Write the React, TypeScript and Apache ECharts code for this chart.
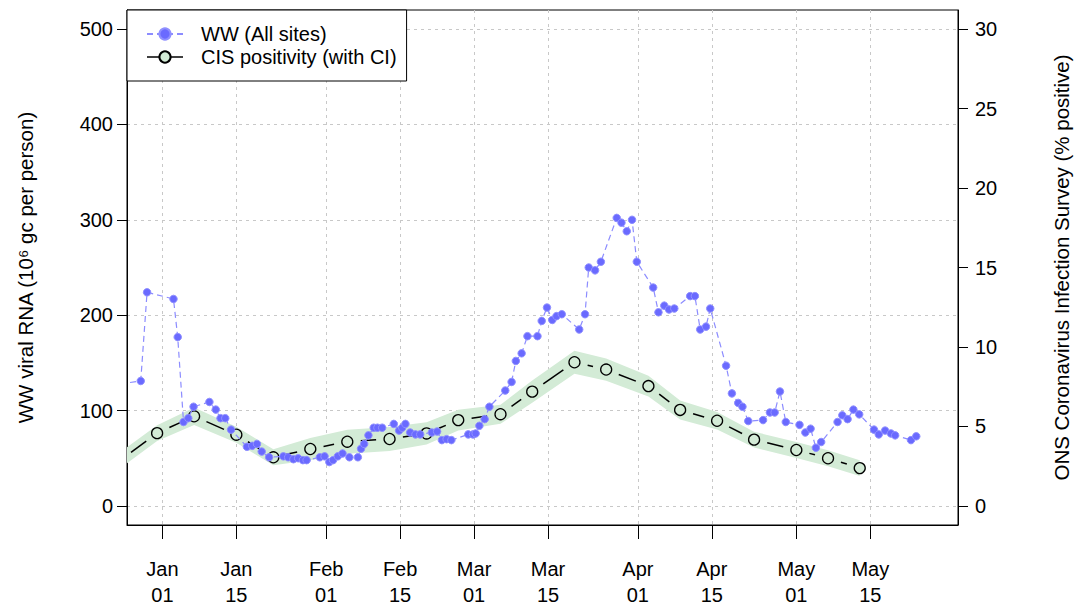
import React, { useEffect, useRef } from "react";
import * as echarts from "echarts";

// Days counted from 2021-01-01
const tickDays = [0, 14, 31, 45, 59, 73, 90, 104, 120, 134];
const tickLabels = ["Jan\n01", "Jan\n15", "Feb\n01", "Feb\n15", "Mar\n01", "Mar\n15", "Apr\n01", "Apr\n15", "May\n01", "May\n15"];
const leftTicks = [0, 100, 200, 300, 400, 500];
const rightTicks = [0, 5, 10, 15, 20, 25, 30];

const wwDay = [
  -8, -4.1, -2.9, 2.1, 2.9, 4.0, 4.9, 5.9, 8.9, 10.1, 11.0, 11.9, 13.0, 16.0, 17.0, 17.9, 18.8, 20.2,
  22.9, 23.8, 24.8, 25.7, 26.6, 27.3, 29.8, 30.7, 31.6, 32.3, 33.2, 34.1, 35.4, 37.0, 37.6, 38.2, 39.0,
  40.0, 40.7, 41.6, 43.8, 44.8, 45.4, 46.0, 46.9, 47.9, 48.8, 51.0, 52.0, 52.9, 53.8, 54.7, 57.9, 58.8,
  59.3, 60.0, 61.0, 61.9, 64.9, 66.1, 66.9, 68.0, 69.1, 71.0, 71.8, 72.8, 73.8, 74.6, 75.6, 78.9, 80.0,
  80.7, 81.9, 83.0, 86.0, 86.9, 87.9, 88.9, 89.8, 92.9, 93.9, 95.0, 95.9, 96.9, 99.9, 100.8, 101.8,
  102.9, 103.7, 106.7, 107.8, 109.0, 109.8, 110.9, 113.7, 115.0, 115.9, 116.9, 118.0, 120.6, 121.7,
  122.7, 123.7, 124.7, 127.8, 128.7, 129.7, 130.8, 131.9, 134.7, 135.6, 136.8, 137.9, 138.7, 141.7, 142.7,
];
const wwValue = [
  128, 131, 224, 217, 177, 88, 92, 104, 109, 101, 92, 92, 80, 62, 63, 65, 57, 51,
  52, 51, 49, 50, 48, 48, 51, 52, 46, 48, 52, 55, 51, 51, 60, 65, 74,
  82, 82, 82, 86, 79, 82, 86, 77, 75, 75, 77, 78, 69, 70, 69, 75, 75,
  76, 84, 91, 104, 121, 130, 152, 160, 178, 178, 194, 208, 195, 199, 201, 185, 201,
  250, 247, 256, 302, 297, 288, 300, 256, 229, 203, 210, 206, 207, 220, 220, 185,
  188, 207, 147, 118, 108, 104, 89, 90, 98, 98, 120, 88, 85, 77,
  81, 61, 67, 88, 95, 91, 101, 96, 80, 75, 79, 76, 74, 69, 73,
];

const cisDay = [-8, -1, 6, 14, 21, 28, 35, 43, 50, 56, 64, 70, 78, 84, 92, 98, 105, 112, 120, 126, 132];
const cisValue = [2.87, 4.58, 5.64, 4.48, 3.06, 3.58, 4.04, 4.21, 4.56, 5.4, 5.77, 7.19, 9.04, 8.58, 7.54, 6.04, 5.36, 4.17, 3.52, 3.0, 2.38];
const cisLower = [2.37, 4.08, 5.09, 3.98, 2.56, 2.88, 3.29, 3.46, 3.86, 4.75, 5.17, 6.49, 8.32, 7.88, 6.89, 5.44, 4.81, 3.67, 3.02, 2.5, 1.88];
const cisUpper = [3.37, 5.08, 6.19, 4.98, 3.56, 4.28, 4.79, 4.96, 5.26, 6.05, 6.37, 7.89, 9.76, 9.28, 8.19, 6.64, 5.91, 4.67, 4.02, 3.5, 2.88];

const FONT = "'Liberation Sans', Arial, Helvetica, sans-serif";
const BAND = "#d3ebd6";
const GAP = 13.5; // px gap around each point (R type = "b")

export default function App() {
  const ref = useRef<HTMLDivElement>(null);
  useEffect(() => {
    if (!ref.current) return;
    const chart = echarts.init(ref.current, undefined, { renderer: "svg" });
    const ww = wwDay.map((d, i) => [d, wwValue[i]]);
    const cis = cisDay.map((d, i) => [d, cisValue[i]]);
    const band = cisDay.map((d, i) => [d, cisLower[i], cisUpper[i]]);
    const gridLine = { show: true, lineStyle: { color: "#c8c8c8", type: [3, 4] as any, width: 1 } };
    chart.setOption({
      animation: false,
      textStyle: { fontFamily: FONT },
      grid: { left: 127, right: 113, top: 10, bottom: 80, show: true, borderColor: "#000", borderWidth: 1, backgroundColor: "transparent" },
      legend: {
        data: [
          { name: "WW (All sites)" },
          { name: "CIS positivity (with CI)", lineStyle: { color: "#000", width: 1.5, opacity: 1 } },
        ],
        orient: "vertical",
        left: 127,
        top: 10,
        backgroundColor: "#fff",
        borderColor: "#000",
        borderWidth: 1,
        borderRadius: 0,
        padding: [14, 10, 14, 19],
        itemWidth: 36,
        itemHeight: 14,
        itemGap: 3,
        z: 10,
        textStyle: { fontSize: 20, color: "#000", fontFamily: FONT, padding: [0, 0, 0, 13] },
      },
      xAxis: {
        type: "value",
        min: -6.7,
        max: 150.6,
        axisLine: { show: true, onZero: false, lineStyle: { color: "#000", width: 1 } },
        axisTick: { show: true, length: 14, customValues: tickDays, lineStyle: { color: "#000" } },
        axisLabel: {
          customValues: tickDays,
          margin: 31,
          fontSize: 20,
          lineHeight: 26,
          color: "#000",
          fontFamily: FONT,
          formatter: (v: number) => {
            const i = tickDays.indexOf(Math.round(v));
            return i >= 0 ? tickLabels[i] : "";
          },
        },
        splitLine: gridLine,
      },
      yAxis: [
        {
          type: "value",
          min: -20,
          max: 520,
          position: "left",
          name: "WW viral RNA (10\u2076 gc per person)",
          nameLocation: "middle",
          nameRotate: 90,
          nameGap: 91,
          nameTextStyle: { fontSize: 20.5, color: "#000", fontFamily: FONT },
          axisLine: { show: true, onZero: false, lineStyle: { color: "#000" } },
          axisTick: { show: true, length: 10, customValues: leftTicks, lineStyle: { color: "#000" } },
          axisLabel: { customValues: leftTicks, margin: 14, fontSize: 20, color: "#000", fontFamily: FONT },
          splitLine: gridLine,
        },
        {
          type: "value",
          min: -1.2,
          max: 31.2,
          position: "right",
          name: "ONS Coronavirus Infection Survey (% positive)",
          nameLocation: "middle",
          nameRotate: 90,
          nameGap: 93,
          nameTextStyle: { fontSize: 20.5, color: "#000", fontFamily: FONT },
          axisLine: { show: true, onZero: false, lineStyle: { color: "#000" } },
          axisTick: { show: true, length: 10, customValues: rightTicks, lineStyle: { color: "#000" } },
          axisLabel: { customValues: rightTicks, margin: 17, fontSize: 20, color: "#000", fontFamily: FONT },
          splitLine: { show: false },
        },
      ],
      series: [
        {
          name: "ciBand",
          type: "custom",
          yAxisIndex: 1,
          data: band,
          encode: { x: 0, y: [1, 2] },
          clip: true,
          silent: true,
          z: 1,
          renderItem: (params: any, api: any) => {
            if (params.dataIndex !== 0) return null;
            const top = band.map((b) => api.coord([b[0], b[2]]));
            const bottom = band.map((b) => api.coord([b[0], b[1]])).reverse();
            return { type: "polygon", shape: { points: top.concat(bottom) }, style: { fill: BAND } };
          },
        },
        {
          name: "cisSegments",
          type: "custom",
          yAxisIndex: 1,
          data: cis,
          encode: { x: 0, y: 1 },
          clip: true,
          silent: true,
          z: 2,
          renderItem: (params: any, api: any) => {
            const i = params.dataIndex;
            if (i >= cis.length - 1) return null;
            const p0 = api.coord(cis[i]);
            const p1 = api.coord(cis[i + 1]);
            const dx = p1[0] - p0[0];
            const dy = p1[1] - p0[1];
            const len = Math.sqrt(dx * dx + dy * dy);
            if (len <= 2 * GAP) return null;
            const ux = dx / len;
            const uy = dy / len;
            return {
              type: "line",
              shape: { x1: p0[0] + ux * GAP, y1: p0[1] + uy * GAP, x2: p1[0] - ux * GAP, y2: p1[1] - uy * GAP },
              style: { stroke: "#000", lineWidth: 1.5 },
            };
          },
        },
        {
          name: "CIS positivity (with CI)",
          type: "line",
          yAxisIndex: 1,
          data: cis,
          symbol: "circle",
          symbolSize: 11,
          itemStyle: { color: BAND, borderColor: "#000", borderWidth: 1.3 },
          lineStyle: { color: "#000", width: 1.5, opacity: 0 },
          z: 3,
        },
        {
          name: "WW (All sites)",
          type: "line",
          yAxisIndex: 0,
          data: ww,
          symbol: "circle",
          symbolSize: 7.5,
          itemStyle: { color: "#6a6aff", borderColor: "#9090ff", borderWidth: 1 },
          lineStyle: { color: "#8c8cff", width: 1.2, type: [6, 4] },
          z: 5,
        },
      ],
    });
    return () => chart.dispose();
  }, []);
  return <div ref={ref} style={{ width: 1080, height: 608, position: "absolute", left: 0, top: 0 }} />;
}
